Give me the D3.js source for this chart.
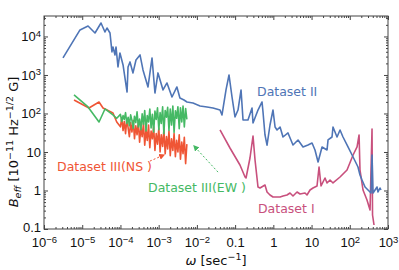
<!DOCTYPE html>
<html>
<head>
<meta charset="utf-8">
<script src="https://cdn.jsdelivr.net/npm/d3@7"></script>
<style>
  body { margin: 0; background: #fff; }
  svg { display: block; font-family: "DejaVu Sans", sans-serif; }
</style>
</head>
<body>
<div id="wrapper"></div>
<script>
// [omega (sec^-1), B_eff (1e-11 Hz^-1/2 G)]
const datasetII = [
  [3.14e-6, 2770], [8.75e-6, 14800], [1.42e-5, 18700], [2.16e-5, 12300], [3.1e-5, 22400],
  [3.94e-5, 13100], [4.45e-5, 16600], [5.33e-5, 12300], [6.0e-5, 3960], [6.38e-5, 5340],
  [7.2e-5, 3310], [7.66e-5, 5340], [8.63e-5, 1610], [9.7e-5, 3730], [1.17e-4, 1820],
  [1.49e-4, 361], [1.58e-4, 1610], [1.78e-4, 2180], [2.13e-4, 1130], [2.55e-4, 2450],
  [3.25e-4, 3310], [3.89e-4, 1350], [4.4e-4, 887], [5.26e-4, 488], [6.7e-4, 2770],
  [8.0e-4, 340], [9.6e-4, 1130], [1.3e-3, 408], [1.65e-3, 620], [2.23e-3, 268],
  [3.0e-3, 488], [3.6e-3, 253], [4.6e-3, 224], [5.5e-3, 199], [7.9e-3, 187],
  [0.0121, 157], [0.0184, 148], [0.0264, 139], [0.0403, 123], [0.0454, 91.4],
  [0.0578, 408], [0.0692, 1000], [0.083, 268], [0.0993, 81.1], [0.119, 123],
  [0.143, 408], [0.161, 67.8], [0.217, 67.8], [0.277, 139], [0.294, 56.6],
  [0.397, 123], [0.506, 199], [0.537, 109], [0.605, 27.7], [0.684, 15],
  [0.818, 50.2], [0.98, 123], [1.11, 44.6], [1.25, 37.3], [1.5, 44.6],
  [1.79, 24.5], [2.42, 31.2], [3.27, 15.2], [4.43, 20.5], [5.98, 13.5],
  [8.07, 15.2], [10.3, 17.1], [12.3, 11.3], [14.8, 5.5], [18.8, 13.5],
  [25.4, 11.3], [27.0, 20.5], [34.3, 24.5], [36.4, 44.6], [46.4, 24.5],
  [55.6, 37.3], [66.5, 24.5], [89.9, 13.5], [122, 7.41], [164, 4.08],
  [185, 2.53], [209, 1.87], [251, 1.23], [300, 1.03], [360, 0.861],
  [382, 8.36], [406, 0.861], [516, 1.23], [548, 0.914], [618, 1.16], [656, 1.03]
]

const datasetI = [
  [0.0403, 37.3], [0.0734, 12.7], [0.134, 4.59], [0.182, 2.24], [0.193, 2.11],
  [0.245, 6.98], [0.294, 26], [0.332, 6.2], [0.397, 1.23], [0.448, 1.16],
  [0.605, 1.39], [0.684, 0.914], [0.818, 0.764], [0.98, 0.678], [1.5, 0.678],
  [1.79, 0.72], [2.28, 0.764], [2.73, 0.861], [3.27, 0.72], [4.17, 0.914],
  [4.99, 0.811], [6.75, 0.861], [7.6, 0.764], [9.12, 1.03], [10.9, 1.16],
  [13.9, 1.31], [15.7, 4.08], [17.7, 1.31], [22.5, 2.11], [25.4, 1.57],
  [30.4, 1.87], [36.4, 1.57], [55.6, 2.24], [84.7, 3.41], [122, 8.36],
  [155, 13.5], [175, 27.7], [185, 3.41], [222, 1.03], [282, 0.566],
  [339, 0.312], [382, 39.6], [394, 0.231], [431, 0.127]
]

const datasetIIIew = [
  [6.1e-6, 303], [1.42e-5, 148], [2.75e-5, 60.1], [3.94e-5, 131], [6.38e-5, 91.4],
  [8.0e-5, 75], [1.0e-4, 95], [1.08e-4, 62], [1.17e-4, 88], [1.26e-4, 70],
  [1.36e-4, 105], [1.47e-4, 55], [1.59e-4, 80], [1.71e-4, 48], [1.85e-4, 92],
  [2.0e-4, 66], [2.16e-4, 41], [2.33e-4, 85], [2.52e-4, 58], [2.72e-4, 110],
  [2.94e-4, 45], [3.17e-4, 72], [3.43e-4, 38], [3.7e-4, 98], [4.0e-4, 52],
  [4.32e-4, 120], [4.66e-4, 35], [5.03e-4, 88], [5.44e-4, 60], [5.87e-4, 130],
  [6.34e-4, 42], [6.85e-4, 95], [7.4e-4, 33], [7.99e-4, 115], [8.63e-4, 70],
  [9.32e-4, 140], [1.01e-3, 38], [1.09e-3, 105], [1.17e-3, 55], [1.27e-3, 150],
  [1.37e-3, 30], [1.48e-3, 120], [1.6e-3, 80], [1.72e-3, 145], [1.86e-3, 36],
  [2.01e-3, 130], [2.17e-3, 50], [2.35e-3, 155], [2.53e-3, 32], [2.74e-3, 118],
  [2.95e-3, 75], [3.19e-3, 150], [3.45e-3, 40], [3.72e-3, 140], [4.02e-3, 60],
  [4.34e-3, 155], [4.69e-3, 45], [5.07e-3, 135], [5.47e-3, 70]
]

const datasetIIIns = [
  [6.1e-6, 224], [1.5e-5, 139], [2.75e-5, 199], [3.5e-5, 139], [6.38e-5, 103],
  [8.0e-5, 60], [1.0e-4, 45], [1.08e-4, 78], [1.17e-4, 36], [1.26e-4, 62],
  [1.36e-4, 30], [1.47e-4, 70], [1.59e-4, 42], [1.71e-4, 25], [1.85e-4, 58],
  [2.0e-4, 33], [2.16e-4, 66], [2.33e-4, 22], [2.52e-4, 48], [2.72e-4, 28],
  [2.94e-4, 60], [3.17e-4, 18], [3.43e-4, 44], [3.7e-4, 25], [4.0e-4, 55],
  [4.32e-4, 15], [4.66e-4, 38], [5.03e-4, 20], [5.44e-4, 50], [5.87e-4, 13],
  [6.34e-4, 35], [6.85e-4, 22], [7.4e-4, 45], [7.99e-4, 11], [8.63e-4, 30],
  [9.32e-4, 16], [1.01e-3, 42], [1.09e-3, 10], [1.17e-3, 28], [1.27e-3, 14],
  [1.37e-3, 38], [1.48e-3, 9], [1.6e-3, 25], [1.72e-3, 12], [1.86e-3, 35],
  [2.01e-3, 8], [2.17e-3, 22], [2.35e-3, 11], [2.53e-3, 30], [2.74e-3, 7.5],
  [2.95e-3, 20], [3.19e-3, 10], [3.45e-3, 28], [3.72e-3, 6.5], [4.02e-3, 18],
  [4.34e-3, 9], [4.69e-3, 24], [5.07e-3, 5], [5.47e-3, 16]
]

const xTickValues = [1e-6, 1e-5, 1e-4, 1e-3, 1e-2, 0.1, 1, 10, 100, 1000]
const yTickValues = [0.1, 1, 10, 100, 1000, 10000]

const labels = [
  { text: "Dataset II", x: 0.374, y: 285, color: "#4f75b6" },
  { text: "Dataset I", x: 0.397, y: 0.26, color: "#c8507d" },
  { text: "Dataset III(NS )", x: 2.19e-6, y: 3.2, color: "#ef5535" },
  { text: "Dataset III(EW )", x: 5.26e-4, y: 0.914, color: "#45b964" },
]

const arrows = [
  { from: [5.9e-4, 5.8], to: [1.38e-3, 8.4], color: "#ef5535" },
  { from: [0.0357, 3.0], to: [8.4e-3, 14.3], color: "#45b964" },
]

function drawChart() {
  const dimensions = {
    width: 399,
    height: 270,
    margin: { top: 16, right: 11, bottom: 41, left: 44 },
  }
  dimensions.boundedWidth = dimensions.width - dimensions.margin.left - dimensions.margin.right
  dimensions.boundedHeight = dimensions.height - dimensions.margin.top - dimensions.margin.bottom

  const wrapper = d3.select("#wrapper")
    .append("svg")
      .attr("width", dimensions.width)
      .attr("height", dimensions.height)

  const bounds = wrapper.append("g")
    .attr("transform", `translate(${dimensions.margin.left},${dimensions.margin.top})`)

  const xScale = d3.scaleLog()
    .domain([1e-6, 1e3])
    .range([0, dimensions.boundedWidth])

  const yScale = d3.scaleLog()
    .domain([0.1, 3.4e4])
    .range([dimensions.boundedHeight, 0])

  // minor ticks 2..9 per decade
  const minors = (scale) => {
    const [a, b] = scale.domain()
    const out = []
    for (let e = Math.floor(Math.log10(a)); e <= Math.ceil(Math.log10(b)); e++) {
      for (let k = 2; k <= 9; k++) {
        const v = k * Math.pow(10, e)
        if (v > a && v < b) out.push(v)
      }
    }
    return out
  }

  const line = d3.line()
    .x(d => xScale(d[0]))
    .y(d => yScale(d[1]))

  const defs = wrapper.append("defs")
  defs.append("clipPath").attr("id", "plotClip")
    .append("rect")
      .attr("width", dimensions.boundedWidth)
      .attr("height", dimensions.boundedHeight)

  defs.selectAll("marker")
    .data(arrows)
    .enter().append("marker")
      .attr("id", (d, i) => "arrow" + i)
      .attr("viewBox", "0 0 10 10")
      .attr("refX", 8)
      .attr("refY", 5)
      .attr("markerWidth", 6)
      .attr("markerHeight", 6)
      .attr("markerUnits", "userSpaceOnUse")
      .attr("orient", "auto")
    .append("path")
      .attr("d", "M0,0 L10,5 L0,10 z")
      .attr("fill", d => d.color)

  const series = [
    { data: datasetIIIns, color: "#ef5535" },
    { data: datasetIIIew, color: "#45b964" },
    { data: datasetI, color: "#c8507d" },
    { data: datasetII, color: "#4f75b6" },
  ]

  const plot = bounds.append("g").attr("clip-path", "url(#plotClip)")
  plot.selectAll(".series")
    .data(series)
    .enter().append("path")
      .attr("class", "series")
      .attr("d", d => line(d.data))
      .attr("fill", "none")
      .attr("stroke", d => d.color)
      .attr("stroke-width", 1.6)
      .attr("stroke-linejoin", "round")

  // frame
  bounds.append("rect")
    .attr("width", dimensions.boundedWidth)
    .attr("height", dimensions.boundedHeight)
    .attr("fill", "none")
    .attr("stroke", "#444")
    .attr("stroke-width", 1)

  const writeLabel = (sel, v) => {
    const e = Math.round(Math.log10(v))
    sel.text(null)
    if (e >= -1 && e <= 1) {
      sel.text(String(v))
      return
    }
    sel.append("tspan").text("10")
    sel.append("tspan").attr("dy", -4.5).attr("font-size", 9.5).text(e < 0 ? "\u2212" + (-e) : String(e))
  }

  const styleAxis = g => {
    g.select(".domain").remove()
    g.selectAll("line").attr("stroke", "#444")
    g.selectAll("text").attr("fill", "#111").attr("font-size", 13)
  }

  // bottom axis
  const xAxisG = bounds.append("g").attr("transform", `translate(0,${dimensions.boundedHeight})`)
  xAxisG.call(d3.axisBottom(xScale).tickValues(xTickValues).tickSizeInner(-4).tickSizeOuter(0).tickPadding(9))
  xAxisG.call(styleAxis)
  xAxisG.selectAll("text").each(function(v) { writeLabel(d3.select(this), v) })
  bounds.append("g").attr("transform", `translate(0,${dimensions.boundedHeight})`)
    .call(d3.axisBottom(xScale).tickValues(minors(xScale)).tickFormat("").tickSizeInner(-2).tickSizeOuter(0))
    .call(styleAxis)

  // top axis
  bounds.append("g")
    .call(d3.axisTop(xScale).tickValues(xTickValues).tickFormat("").tickSizeInner(-4).tickSizeOuter(0))
    .call(styleAxis)
  bounds.append("g")
    .call(d3.axisTop(xScale).tickValues(minors(xScale)).tickFormat("").tickSizeInner(-2).tickSizeOuter(0))
    .call(styleAxis)

  // left axis
  const yAxisG = bounds.append("g")
  yAxisG.call(d3.axisLeft(yScale).tickValues(yTickValues).tickSizeInner(-4).tickSizeOuter(0).tickPadding(3))
  yAxisG.call(styleAxis)
  yAxisG.selectAll("text").each(function(v) { writeLabel(d3.select(this), v) })
  yAxisG.selectAll(".tick").filter(d => d === 0.1).select("text").attr("dy", "0.2em")
  bounds.append("g")
    .call(d3.axisLeft(yScale).tickValues(minors(yScale)).tickFormat("").tickSizeInner(-2).tickSizeOuter(0))
    .call(styleAxis)

  // right axis
  bounds.append("g").attr("transform", `translate(${dimensions.boundedWidth},0)`)
    .call(d3.axisRight(yScale).tickValues(yTickValues).tickFormat("").tickSizeInner(-4).tickSizeOuter(0))
    .call(styleAxis)
  bounds.append("g").attr("transform", `translate(${dimensions.boundedWidth},0)`)
    .call(d3.axisRight(yScale).tickValues(minors(yScale)).tickFormat("").tickSizeInner(-2).tickSizeOuter(0))
    .call(styleAxis)

  // axis titles
  const xTitle = wrapper.append("text")
    .attr("x", dimensions.margin.left + dimensions.boundedWidth / 2)
    .attr("y", 265)
    .attr("text-anchor", "middle")
    .attr("font-size", 13)
    .attr("fill", "#111")
  xTitle.append("tspan").attr("font-style", "italic").text("\u03c9")
  xTitle.append("tspan").text(" [sec")
  xTitle.append("tspan").attr("dy", -5).attr("font-size", 9.5).text("\u22121")
  xTitle.append("tspan").attr("dy", 5).text("]")

  const yTitle = wrapper.append("text")
    .attr("transform", "translate(18,142) rotate(-90)")
    .attr("text-anchor", "middle")
    .attr("font-size", 13)
    .attr("fill", "#111")
  yTitle.append("tspan").attr("font-style", "italic").text("B")
  yTitle.append("tspan").attr("font-style", "italic").attr("font-size", 9.5).attr("dy", 3).text("eff")
  yTitle.append("tspan").attr("dy", -3).text(" [10")
  yTitle.append("tspan").attr("dy", -5).attr("font-size", 9.5).text("\u221211")
  yTitle.append("tspan").attr("dy", 5).text(" Hz")
  yTitle.append("tspan").attr("dy", -5).attr("font-size", 9.5).text("\u22121/2")
  yTitle.append("tspan").attr("dy", 5).text(" G]")

  // annotations
  bounds.selectAll(".label")
    .data(labels)
    .enter().append("text")
      .attr("class", "label")
      .attr("x", d => xScale(d.x))
      .attr("y", d => yScale(d.y))
      .attr("font-size", 12.5)
      .attr("fill", d => d.color)
      .text(d => d.text)

  bounds.selectAll(".arrow")
    .data(arrows)
    .enter().append("line")
      .attr("class", "arrow")
      .attr("x1", d => xScale(d.from[0]))
      .attr("y1", d => yScale(d.from[1]))
      .attr("x2", d => xScale(d.to[0]))
      .attr("y2", d => yScale(d.to[1]))
      .attr("stroke", d => d.color)
      .attr("stroke-width", 1)
      .attr("stroke-dasharray", "2,2")
      .attr("marker-end", (d, i) => `url(#arrow${i})`)
}

drawChart()
</script>
</body>
</html>
